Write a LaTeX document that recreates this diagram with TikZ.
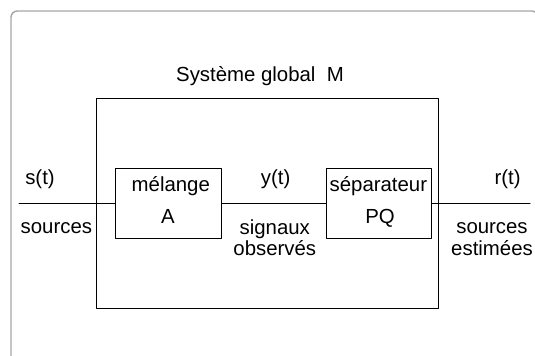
\documentclass[tikz,border=0pt]{standalone}
\usepackage{fontspec}
\setmainfont{Liberation Sans}
\usetikzlibrary{positioning}

\begin{document}
\begin{tikzpicture}[
  line cap=round,
  line join=round,
  every node/.style={font=\fontsize{14.5}{15.5}\selectfont},
  frame/.style={gray!70,line width=1pt,rounded corners=4.5pt},
  block/.style={draw=black,line width=0.7pt,minimum width=2.63cm,
    minimum height=1.75cm,inner sep=0pt},
  signal/.style={black,line width=0.7pt},
  txt/.style={anchor=base,inner sep=0pt,align=center}
]
\path[use as bounding box] (0,0) rectangle (13.375,8.9);
\clip (0,0) rectangle (13.375,8.9);

% outer frame, cut by the page
\draw[frame] (0.275,-1) rectangle (13.45,8.625);

% global system
\node[draw=black,line width=0.7pt,minimum width=8.55cm,
  minimum height=5.25cm] (M) at (6.675,3.825) {};
\node[txt] (Mname) at (6.5,6.85) {Système global\ \ M};

% blocks
\node[block] (mel) at (4.2125,3.825) {};
\node[block] (sep) at (9.475,3.825) {};
\node[txt] (melname) at (4.27,4.1) {mélange};
\node[txt] (melmat) at (4.2,3.3) {A};
\node[txt] (sepname) at (9.46,4.1) {séparateur};
\node[txt] (sepmat) at (9.5,3.3) {PQ};

\coordinate (in) at (0.475,3.825);
\coordinate (out) at (13.25,3.825);
\draw[signal] (in) -- (mel) -- (sep) -- (out);

% signals
\node[txt] (s) at (1.0,4.275) {s(t)};
\node[txt] (srcname) at (1.41,3.05) {sources};
\node[txt] (y) at (6.89,4.275) {y(t)};
\node[txt] (obsname) at (6.87,2.5) {signaux\\observés};
\node[txt] (r) at (12.69,4.275) {r(t)};
\node[txt] (estname) at (12.3,2.52) {sources\\estimées};
\end{tikzpicture}
\end{document}
